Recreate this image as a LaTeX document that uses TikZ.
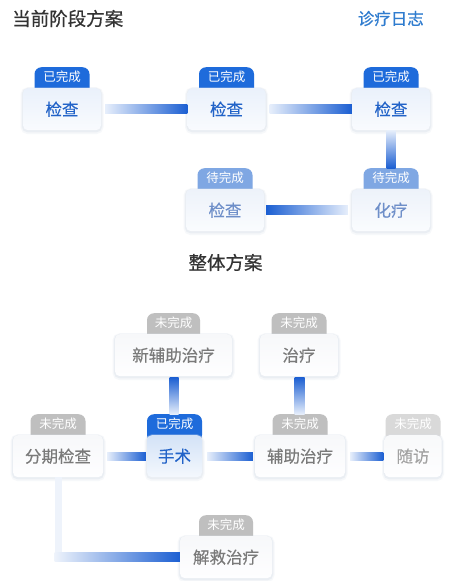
\documentclass[tikz,border=0pt]{standalone}
\usepackage{fontspec}
\newfontfamily\cjk{Noto Sans CJK SC}
\newfontfamily\cjkm{Noto Sans CJK SC}[FakeBold=0.35]
\newfontfamily\cjkt{Noto Sans CJK SC}[FakeBold=0.6]
\usetikzlibrary{calc}
\definecolor{cdone}{HTML}{1E6BDB}
\definecolor{ctxtdone}{HTML}{2263C8}
\definecolor{cpend}{HTML}{7FA7E3}
\definecolor{ctxtpend}{HTML}{6E8FC9}
\definecolor{cnot}{HTML}{BFBFBF}
\definecolor{cnotfade}{HTML}{D9D9D9}
\definecolor{ctxtnot}{HTML}{7A7A7A}
\definecolor{ctxtfade}{HTML}{A2A2A2}
\definecolor{cdark}{HTML}{1C5FD2}
\definecolor{clight}{HTML}{E6EEFB}
\definecolor{cvlight}{HTML}{EEF3FB}
\definecolor{shad}{HTML}{DAE0EA}
\definecolor{ctitle}{HTML}{333333}
\definecolor{clog}{HTML}{2F7CCF}
\definecolor{bdtop}{HTML}{EAF1FB}
\definecolor{bdbot}{HTML}{F9FBFE}
\definecolor{bptop}{HTML}{EDF2FA}
\definecolor{bpbot}{HTML}{FAFCFE}
\definecolor{bntop}{HTML}{F7F8FA}
\definecolor{bnbot}{HTML}{FEFEFF}
\definecolor{bftop}{HTML}{F8F9FA}
\definecolor{bstop}{HTML}{D3E2F7}
\definecolor{bsbot}{HTML}{F4F8FD}
\begin{document}
\begin{tikzpicture}[x=1pt,y=-1pt,
  box/.style={rounded corners=5pt, inner sep=0pt, anchor=north, minimum height=42pt,
    font=\cjkm\fontsize{16.5}{18}\selectfont,
    preaction={draw=shad, line width=5pt, draw opacity=0.22, transform canvas={yshift=-1.5pt}},
    preaction={draw=shad, line width=2.5pt, draw opacity=0.4, transform canvas={yshift=-1pt}}},
  boxdone/.style={box, top color=bdtop, bottom color=bdbot, text=ctxtdone},
  boxpend/.style={box, top color=bptop, bottom color=bpbot, text=ctxtpend},
  boxnot/.style={box, top color=bntop, bottom color=bnbot, text=ctxtnot},
  boxfade/.style={box, top color=bftop, bottom color=bnbot, text=ctxtfade},
  boxsurg/.style={box, top color=bstop, bottom color=bsbot, text=ctxtdone},
  tag/.style={rounded corners=7pt, inner sep=0pt, anchor=north, text=white,
    text height=14.7pt, text depth=13.3pt, minimum width=55pt,
    font=\cjk\fontsize{12.5}{12.5}\selectfont},
  tagdone/.style={tag, fill=cdone},
  tagpend/.style={tag, fill=cpend},
  tagnot/.style={tag, fill=cnot},
  tagfade/.style={tag, fill=cnotfade},
  hbar/.style={left color=clight, right color=cdark},
  hbarrev/.style={left color=cdark, right color=clight},
  vbar/.style={top color=clight, bottom color=cdark},
  vbarrev/.style={top color=cdark, bottom color=clight},
  title/.style={inner sep=0pt, text=ctitle, font=\cjkt\fontsize{18.5}{20}\selectfont}
]
\fill[white] (0,0) rectangle (449,581);
\useasboundingbox (0,0) rectangle (449,581);

% titles
\node[title, anchor=west] (t1) at (12,18.5) {当前阶段方案};
\node[inner sep=0pt, anchor=east, text=clog, font=\cjkm\fontsize{16.5}{18}\selectfont] (log) at (424,18.5) {诊疗日志};
\node[title] (t2) at (225.5,262.5) {整体方案};

% current stage
\node[tagdone] (a1t) at (62,67) {已完成};
\node[boxdone, minimum width=78pt] (a1) at ($(a1t.north)+(0,21)$) {检查};
\node[tagdone] (a2t) at (226.5,67) {已完成};
\node[boxdone, minimum width=78pt] (a2) at ($(a2t.north)+(0,21)$) {检查};
\node[tagdone] (a3t) at (391,67) {已完成};
\node[boxdone, minimum width=78pt] (a3) at ($(a3t.north)+(0,21)$) {检查};
\node[tagpend] (b1t) at (225,168) {待完成};
\node[boxpend, minimum width=78pt] (b1) at ($(b1t.north)+(0,21)$) {检查};
\node[tagpend] (b2t) at (391,168) {待完成};
\node[boxpend, minimum width=78pt] (b2) at ($(b2t.north)+(0,21)$) {化疗};

\shade[hbar] ($(a1.east)+(4,-4.5)$) rectangle ($(a2.west)+(0,4.5)$);
\shade[hbar] ($(a2.east)+(4,-4.5)$) rectangle ($(a3.west)+(0,4.5)$);
\shade[vbar] ($(a3.south)+(-4.5,0)$) rectangle ($(b2t.north)+(4.5,0)$);
\shade[hbarrev] ($(b1.east)+(2,-4.5)$) rectangle ($(b2.west)+(-4,4.5)$);

% overall plan
\node[tagnot, minimum width=53pt] (c1t) at (173.5,313) {未完成};
\node[boxnot, minimum width=117pt] (c1) at ($(c1t.north)+(0,21)$) {新辅助治疗};
\node[tagnot] (c2t) at (299,313) {未完成};
\node[boxnot, minimum width=78pt] (c2) at ($(c2t.north)+(0,21)$) {治疗};
\node[tagnot] (d1t) at (58,414) {未完成};
\node[boxnot, minimum width=90pt] (d1) at ($(d1t.north)+(0,21)$) {分期检查};
\node[tagdone] (d2t) at (174.5,414) {已完成};
\node[boxsurg, minimum width=55pt] (d2) at ($(d2t.north)+(0,21)$) {手术};
\node[tagnot] (d3t) at (300,414) {未完成};
\node[boxnot, minimum width=90pt] (d3) at ($(d3t.north)+(0,21)$) {辅助治疗};
\node[tagfade] (d4t) at (413,414) {未完成};
\node[boxfade, minimum width=57pt] (d4) at ($(d4t.north)+(0,21)$) {随访};
\node[tagnot, minimum width=54pt] (et) at (226,515) {未完成};
\node[boxnot, minimum width=92pt] (e) at ($(et.north)+(0,21)$) {解救治疗};

\shade[vbarrev] ($(c1.south)+(-4,1)$) rectangle ($(d2t.north)+(4,0)$);
\shade[vbarrev] ($(c2.south)+(-4.5,1)$) rectangle ($(d3t.north)+(4.5,0)$);
\shade[hbar] ($(d1.east)+(4,-4)$) rectangle ($(d2.west)+(-1,4)$);
\shade[hbar] ($(d2.east)+(5,-4)$) rectangle ($(d3.west)+(-2,4)$);
\shade[hbar] ($(d3.east)+(5,-4)$) rectangle ($(d4.west)+(-1,4)$);
\coordinate (corner) at (d1.south |- e.west);
\fill[cvlight] ($(d1.south)+(-3.5,0)$) rectangle ($(corner)+(3.5,4.5)$);
\shade[left color=cvlight, right color=cdark] ($(corner)+(-3.5,-4.5)$) rectangle ($(e.west)+(0,4.5)$);
\end{tikzpicture}
\end{document}
